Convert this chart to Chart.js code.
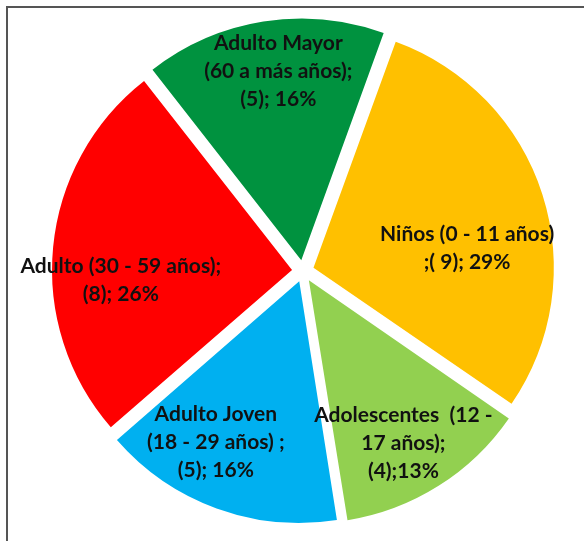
<!DOCTYPE html>
<html>
<head>
<meta charset="utf-8">
<script src="https://cdn.jsdelivr.net/npm/chart.js@4"></script>
<style>
  html, body { margin: 0; padding: 0; background: #fff; }
  #wrap { position: relative; width: 584px; height: 541px; overflow: hidden; }
  #frame {
    position: absolute; left: 6px; top: 6px; width: 600px; height: 560px;
    border-left: 2px solid #555; border-top: 2px solid #555;
  }
  canvas { position: absolute; left: 0; top: 0; }
</style>
</head>
<body>
<div id="wrap">
  <div id="frame"></div>
  <canvas id="myChart" width="584" height="541"></canvas>
</div>
<script>
/* globals Chart:false */

// categories, in drawing order (clockwise from the Niños slice)
const categories = [
  'Niños (0 - 11 años)',
  'Adolescentes (12 - 17 años)',
  'Adulto Joven (18 - 29 años)',
  'Adulto (30 - 59 años)',
  'Adulto Mayor (60 a más años)'
]
const counts = [9, 4, 5, 8, 5]
const colors = ['#FFC000', '#92D050', '#00B0F0', '#FF0000', '#00923F']

// label text as written on the slices
const labelLines = [
  ['Niños (0 - 11 años)', ';( 9); 29%'],
  ['Adolescentes  (12 -', '17 años);', '(4);13%'],
  ['Adulto Joven', '(18 - 29 años) ;', '(5); 16%'],
  ['Adulto (30 - 59 años);', '(8); 26%'],
  ['Adulto Mayor', '(60 a más años);', '(5); 16%']
]

;(() => {
  'use strict'

  // where each label sits in its slice: [angle shift in degrees, radius fraction]
  const labelPlace = [[10, 0.69], [2, 0.83], [7, 0.8], [-8.3, 0.76], [2, 0.84]]

  const sliceLabels = {
    id: 'sliceLabels',
    afterDatasetsDraw (chart) {
      const c = chart.ctx
      const arcs = chart.getDatasetMeta(0).data
      c.save()
      c.font = 'bold 21px Lato, "Open Sans", sans-serif'
      c.fillStyle = '#111'
      c.textAlign = 'center'
      c.textBaseline = 'middle'
      arcs.forEach((arc, i) => {
        const p = arc.getProps(['x', 'y', 'startAngle', 'endAngle', 'outerRadius'])
        const mid = (p.startAngle + p.endAngle) / 2 + labelPlace[i][0] * Math.PI / 180
        const r = p.outerRadius * labelPlace[i][1]
        const cx = p.x + Math.cos(mid) * r
        const cy = p.y + Math.sin(mid) * r
        const lines = labelLines[i]
        const lh = 28
        lines.forEach((t, k) => {
          c.fillText(t, cx, cy + (k - (lines.length - 1) / 2) * lh)
        })
      })
      c.restore()
    }
  }

  const ctx = document.getElementById('myChart')
  // eslint-disable-next-line no-unused-vars
  const myChart = new Chart(ctx, {
    type: 'pie',
    data: {
      labels: categories,
      datasets: [{
        data: counts,
        backgroundColor: colors,
        borderWidth: 0,
        // arc offset is drawn at a quarter of this value
        offset: 44
      }]
    },
    options: {
      responsive: false,
      animation: false,
      rotation: 20,
      radius: 240,
      layout: { padding: { left: 22, right: 0, top: 1, bottom: 0 } },
      plugins: {
        legend: { display: false },
        tooltip: { enabled: false }
      }
    },
    plugins: [sliceLabels]
  })
})()
</script>
</body>
</html>
